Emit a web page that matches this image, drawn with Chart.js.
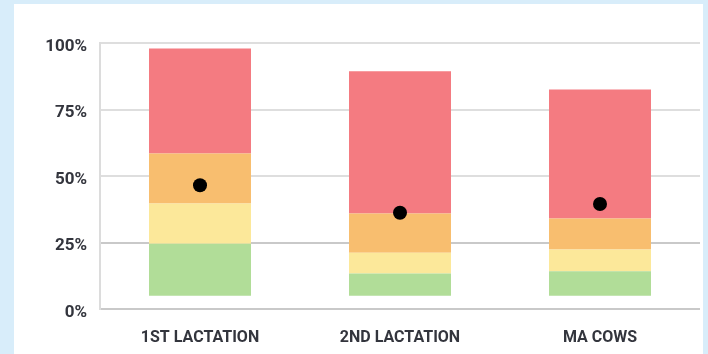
<!DOCTYPE html>
<html>
<head>
<meta charset="utf-8">
<script src="https://cdn.jsdelivr.net/npm/chart.js@4"></script>
<style>
  html, body { margin: 0; padding: 0; }
  body { width: 708px; height: 354px; background: #d8edfa; position: relative; overflow: hidden; }
  #panel { position: absolute; left: 14px; top: 4px; width: 689px; height: 350px; background: #ffffff; }
  #wrap { position: absolute; left: 0; top: 0; width: 708px; height: 354px; }
</style>
</head>
<body>
<div id="panel"></div>
<div id="wrap"><canvas id="c" width="708" height="354"></canvas></div>
<script>
const categories = ['1ST LACTATION', '2ND LACTATION', 'MA COWS'];
const baseLevel  = [5, 5, 5];
const greenTop   = [24.5, 13.3, 14.2];
const yellowTop  = [39.7, 21.1, 22.4];
const orangeTop  = [58.5, 35.9, 34.0];
const redTop     = [97.9, 89.4, 82.5];
const dotValues  = [46.5, 36.2, 39.5];
const yTicks     = [0, 25, 50, 75, 100];

const pair = (lo, hi) => lo.map((v, i) => [v, hi[i]]);
const textColor = '#33353d';

new Chart(document.getElementById('c'), {
  type: 'bar',
  data: {
    labels: categories,
    datasets: [
      { label: 'Green',  data: pair(baseLevel, greenTop),  backgroundColor: '#b1dd98', order: 1 },
      { label: 'Yellow', data: pair(greenTop, yellowTop),  backgroundColor: '#fce89a', order: 1 },
      { label: 'Orange', data: pair(yellowTop, orangeTop), backgroundColor: '#f8be6f', order: 1 },
      { label: 'Red',    data: pair(orangeTop, redTop),    backgroundColor: '#f47b81', order: 1 },
      { type: 'line', label: 'Average', data: dotValues, showLine: false,
        pointRadius: 7, pointBackgroundColor: '#000000', pointBorderWidth: 0, order: 0 }
    ]
  },
  options: {
    responsive: false,
    animation: false,
    categoryPercentage: 1,
    barPercentage: 0.51,
    layout: { padding: { left: 0, right: 8, top: 43, bottom: 0 } },
    plugins: { legend: { display: false }, tooltip: { enabled: false } },
    datasets: { bar: { grouped: false, borderWidth: 0 } },
    scales: {
      x: {
        grid: { display: false, drawTicks: false },
        border: { display: false },
        ticks: { color: textColor, font: { family: 'Roboto', size: 16, weight: 'bold' }, padding: 19 },
        afterFit: s => { s.height = 45; }
      },
      y: {
        min: 0, max: 100,
        afterBuildTicks: s => { s.ticks = yTicks.map(v => ({ value: v })); },
        grid: {
          drawTicks: false,
          lineWidth: 2,
          color: c => (c.tick && (c.tick.value === 0 || c.tick.value === 25)) ? '#c9c9c9' : '#dedede'
        },
        border: { display: true, color: '#dcdcdc', width: 2 },
        ticks: { color: textColor, font: { family: 'Roboto', size: 17, weight: 'bold' },
                 padding: 13, labelOffset: 3.5, callback: v => v + '%' },
        afterFit: s => { s.width = 100; }
      }
    }
  }
});
</script>
</body>
</html>
